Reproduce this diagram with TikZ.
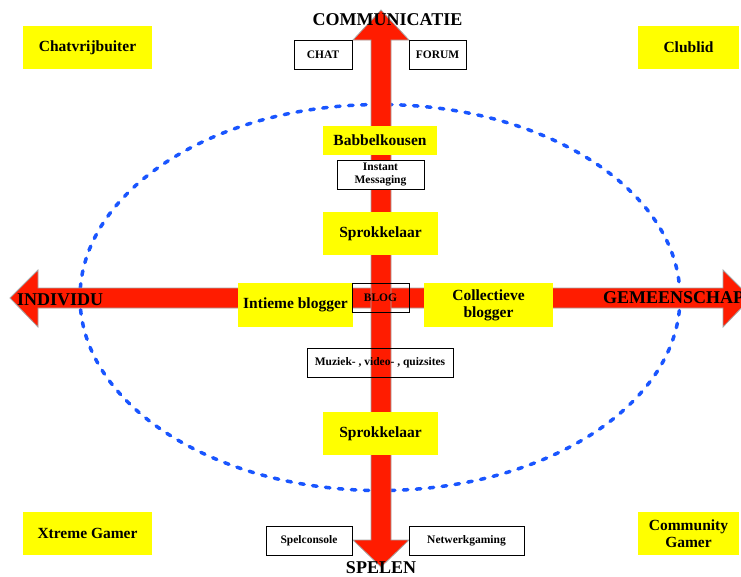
\documentclass[tikz,border=0pt]{standalone}
\usepackage{fontspec}
\setmainfont{Liberation Serif}
\definecolor{arrowred}{RGB}{255,28,0}
\definecolor{arrowedge}{RGB}{165,165,165}
\definecolor{dotblue}{RGB}{25,85,255}
\definecolor{boxyellow}{RGB}{255,255,0}
\tikzset{
  ybox/.style={fill=boxyellow, inner sep=0pt, align=center, font=\fontsize{15.5}{17}\selectfont\bfseries},
  wbox/.style={draw=black, line width=0.8pt, fill=white, inner sep=0pt, align=center, font=\fontsize{11.5}{12.5}\selectfont\bfseries},
  obox/.style={wbox, fill=none},
  axislabel/.style={inner sep=0pt, font=\fontsize{18}{20}\selectfont\bfseries},
  bigarrow/.style={fill=arrowred, draw=arrowedge, line width=0.8pt, line join=miter},
  dots/.style={draw=dotblue, line width=3.5pt, dash pattern=on 4.5pt off 8.5pt, line cap=round}
}
\begin{document}
\begin{tikzpicture}[x=1pt,y=-1pt]
\useasboundingbox (0,0) rectangle (741,576);
\clip (0,0) rectangle (741,576);
% dotted ellipse
\draw[dots] (380,297.5) ellipse [x radius=300, y radius=193];
% horizontal double arrow
\path[bigarrow] (10,298) -- (38,270) -- (38,288) -- (723,288) -- (723,270) -- (751,298)
  -- (723,327) -- (723,308) -- (38,308) -- (38,327) -- cycle;
% vertical double arrow
\path[bigarrow] (381,10) -- (409,40) -- (391,40) -- (391,540) -- (409,540) -- (381,567)
  -- (353,540) -- (371,540) -- (371,40) -- (353,40) -- cycle;
% axis labels
\node[axislabel, anchor=base] (comm) at (387.5,25) {COMMUNICATIE};
\node[axislabel, anchor=base] (spelen) at (381,573) {SPELEN};
\node[axislabel, anchor=base west] (indiv) at (17,305) {INDIVIDU};
\node[axislabel, anchor=base west] (gemeen) at (603,303) {GEMEENSCHAP};
% corner boxes
\node[ybox, minimum width=129pt, minimum height=43pt] (chatvrij) at (87.5,47.5) {Chatvrijbuiter};
\node[ybox, minimum width=101pt, minimum height=43pt] (clublid) at (688.5,47.5) {Clublid};
\node[ybox, minimum width=129pt, minimum height=43pt] (xtreme) at (87.5,533.5) {Xtreme Gamer};
\node[ybox, minimum width=101pt, minimum height=43pt] (community) at (688.5,533.5) {Community\\Gamer};
% central yellow boxes
\node[ybox, minimum width=114pt, minimum height=29pt] (babbel) at (380,140.5) {Babbelkousen};
\node[ybox, minimum width=115pt, minimum height=43pt] (sprok1) at (380.5,233.5) {Sprokkelaar};
\node[ybox, minimum width=115pt, minimum height=44pt] (intiem) at (295.5,305) {Intieme blogger};
\node[ybox, minimum width=129pt, minimum height=44pt] (collect) at (488.5,305) {Collectieve\\blogger};
\node[ybox, minimum width=115pt, minimum height=43pt] (sprok2) at (380.5,433.5) {Sprokkelaar};
% white boxes
\node[wbox, minimum width=58pt, minimum height=29pt] (chat) at (323,54.5) {CHAT};
\node[wbox, minimum width=57pt, minimum height=29pt] (forum) at (437.5,54.5) {FORUM};
\node[wbox, minimum width=87pt, minimum height=29pt] (im) at (380.5,174.5) {Instant\\Messaging};
\node[obox, minimum width=57pt, minimum height=29pt] (blog) at (380.5,297.5) {BLOG};
\node[obox, minimum width=146pt, minimum height=29pt] (muziek) at (380,362.5) {Muziek- , video- , quizsites};
\node[wbox, minimum width=86pt, minimum height=29pt] (spel) at (309,540.5) {Spelconsole};
\node[wbox, minimum width=115pt, minimum height=29pt] (netwerk) at (466.5,540.5) {Netwerkgaming};
\end{tikzpicture}
\end{document}
